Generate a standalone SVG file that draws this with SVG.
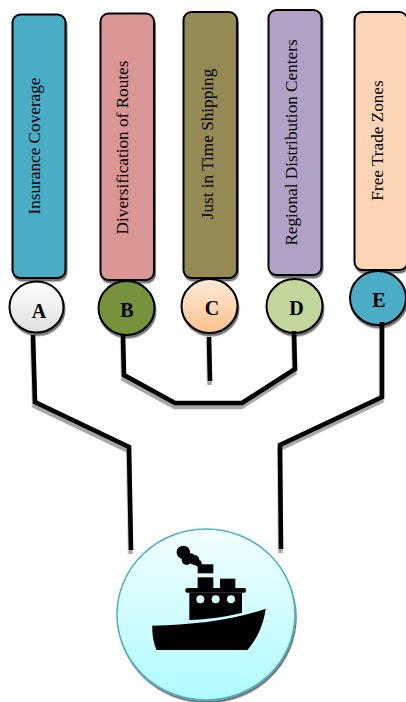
<svg xmlns="http://www.w3.org/2000/svg" width="406" height="702" viewBox="0 0 406 702">
<style>
.box{stroke:#000;stroke-width:2;filter:url(#sh)}
.cir{stroke:#000;stroke-width:2;filter:url(#sh)}
.lbl{font-family:"Liberation Serif","Times New Roman",serif;font-size:17.2px;fill:#000;text-anchor:middle}
.let{font-family:"Liberation Serif","Times New Roman",serif;font-size:20px;font-weight:bold;fill:#000;text-anchor:middle}
.con{fill:none;stroke:#000;stroke-width:4.6;filter:url(#lsh)}
.hole{fill:#dafdff}
</style>
<defs>
<filter id="sh" filterUnits="userSpaceOnUse" x="0" y="0" width="406" height="702">
<feDropShadow dx="1" dy="2.500" stdDeviation="0.7" flood-color="#000" flood-opacity="0.55"/>
</filter>
<filter id="lsh" filterUnits="userSpaceOnUse" x="0" y="0" width="406" height="702">
<feDropShadow dx="-0.5" dy="4" stdDeviation="0.4" flood-color="#000" flood-opacity="0.35"/>
</filter>
<linearGradient id="gA" x1="0" y1="0" x2="0" y2="1"><stop offset="0" stop-color="#fff"/><stop offset="1" stop-color="#dedede"/></linearGradient>
<linearGradient id="gC" x1="0" y1="0" x2="0" y2="1"><stop offset="0" stop-color="#ffeadb"/><stop offset="1" stop-color="#fcc28c"/></linearGradient>
<linearGradient id="gS" x1="0" y1="0" x2="0" y2="1"><stop offset="0" stop-color="#f2feff"/><stop offset="1" stop-color="#affbff"/></linearGradient>
</defs>
<g id="node-a">
<rect class="box" x="12.5" y="14.5" width="53" height="263.500" rx="8" fill="#4bacc6"/>
<text class="lbl" transform="translate(40,146) rotate(-90)">Insurance Coverage</text>
<ellipse class="cir" cx="36.500" cy="307" rx="27" ry="25.500" fill="url(#gA)"/>
<text class="let" x="39" y="318">A</text>
</g>
<g id="node-b">
<rect class="box" x="100.500" y="13.500" width="53.500" height="266.500" rx="8" fill="#d99694"/>
<text class="lbl" transform="translate(128,147.500) rotate(-90)">Diversification of Routes</text>
<ellipse class="cir" cx="126.500" cy="308" rx="28" ry="27" fill="#76923c"/>
<text class="let" x="127" y="316.500">B</text>
</g>
<g id="node-c">
<rect class="box" x="183.500" y="12" width="53.500" height="266" rx="8" fill="#948a54"/>
<text class="lbl" transform="translate(212.500,144) rotate(-90)">Just in Time Shipping</text>
<ellipse class="cir" cx="209.500" cy="306" rx="28" ry="27" fill="url(#gC)"/>
<text class="let" x="212" y="315">C</text>
</g>
<g id="node-d">
<rect class="box" x="268.500" y="10" width="53" height="265" rx="8" fill="#b2a1c7"/>
<text class="lbl" transform="translate(296.500,142.500) rotate(-90)">Regional Distribution Centers</text>
<ellipse class="cir" cx="294.500" cy="306" rx="28" ry="27" fill="#c2d69b"/>
<text class="let" x="296.500" y="315">D</text>
</g>
<g id="node-e">
<rect class="box" x="354.500" y="12" width="53" height="258" rx="8" fill="#fbd5b5"/>
<text class="lbl" transform="translate(382.500,140.500) rotate(-90)">Free Trade Zones</text>
<ellipse class="cir" cx="378" cy="298" rx="28" ry="27" fill="#4bacc6"/>
<text class="let" x="379" y="307">E</text>
</g>
<g id="connectors">
<path class="con" d="M33,335 L35,402 L129,447 L131,550"/>
<path class="con" d="M123,335 L124,375 L175,403 L242,403 L295,369 L294,331"/>
<path class="con" d="M209,337 L210,381"/>
<path class="con" d="M382,322 L382,397 L280,445 L281,549"/>
</g>
<g id="node-ship">
<ellipse cx="206" cy="614.500" rx="89" ry="85.500" fill="url(#gS)" stroke="#4bacc6" stroke-width="1.500" filter="url(#sh)"/>
<g transform="translate(100,520) scale(0.33333)">
<path d="M157,317 C280,315 400,300 497,266 C490,320 465,365 442,390 L170,390 C160,370 156,340 157,317 Z"/>
<path d="M268,218 L426,218 L426,278 C380,290 320,298 268,300 Z"/>
<rect x="256" y="204" width="182" height="14" rx="6"/>
<rect x="293" y="172" width="47" height="34"/>
<rect x="360" y="176" width="46" height="30"/>
<rect x="293" y="133" width="47" height="27"/>
<circle cx="250" cy="97" r="20"/>
<circle cx="260" cy="120" r="15"/>
<circle cx="272" cy="112" r="12"/>
<circle cx="283" cy="120" r="15"/>
<circle cx="295" cy="130" r="10"/>
<circle cx="301" cy="238" r="12" class="hole"/>
<circle cx="347" cy="238" r="12" class="hole"/>
<circle cx="393" cy="238" r="12" class="hole"/>
</g>
</g>
</svg>
